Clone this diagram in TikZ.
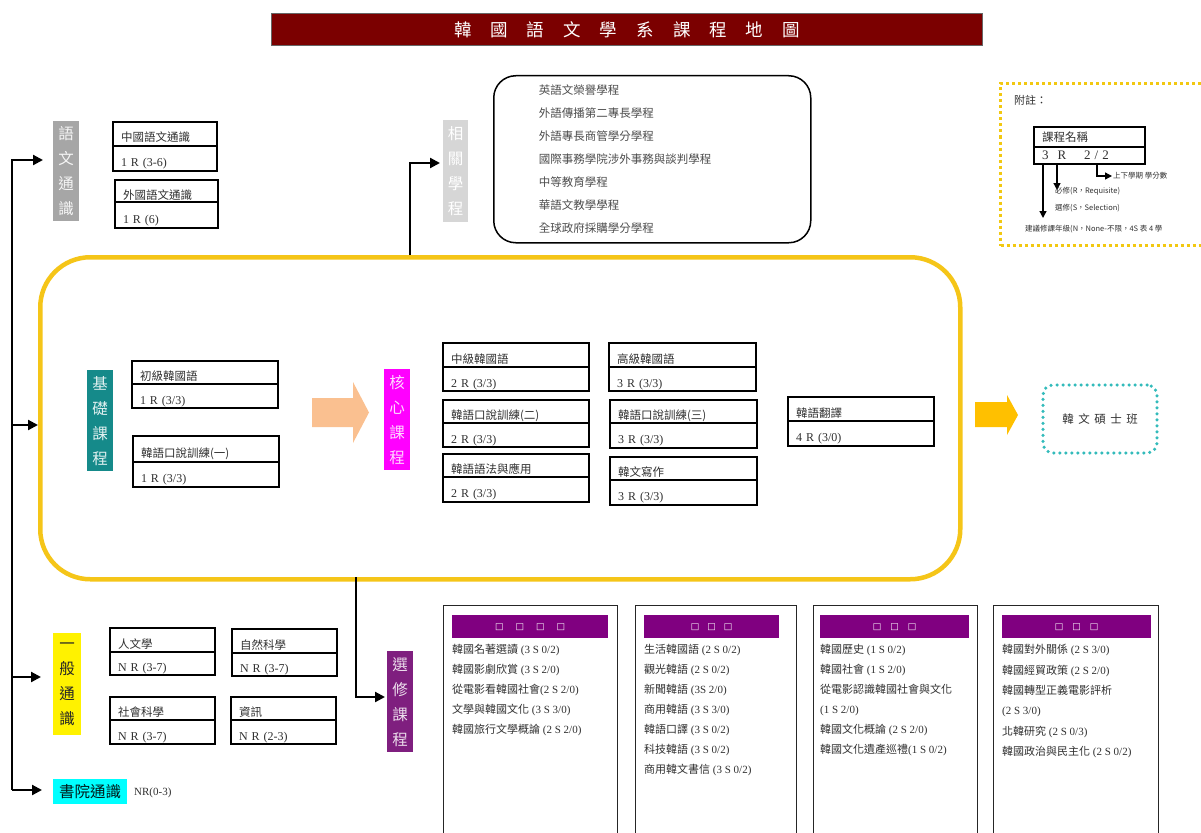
\documentclass[tikz,border=0pt]{standalone}
\usepackage{fontspec}
\setmainfont{Liberation Serif}
\newfontfamily\cjk{Noto Sans CJK TC}
\newfontfamily\symf{DejaVu Sans}
\usetikzlibrary{arrows.meta}
\definecolor{titlered}{HTML}{7B0000}
\definecolor{lgray}{HTML}{A6A6A6}
\definecolor{llgray}{HTML}{D6D6D6}
\definecolor{tealc}{HTML}{158A8A}
\definecolor{magc}{HTML}{FF00FF}
\definecolor{purplec}{HTML}{7F1F7F}
\definecolor{headpurple}{HTML}{800080}
\definecolor{coreyellow}{HTML}{F5C518}
\definecolor{arrowyellow}{HTML}{FFC000}
\definecolor{peach}{HTML}{FAC090}
\definecolor{dotteal}{HTML}{33BBBB}
\definecolor{gold}{HTML}{F2C811}
\definecolor{txt}{HTML}{303030}
\definecolor{cyanc}{HTML}{00FFFF}
\newcommand\zh[1]{{\cjk #1}}
\tikzset{
  cbox/.style={draw=black, line width=1.3pt, anchor=north west, inner xsep=8pt, inner ysep=0pt,
    outer sep=0pt, align=left, text=txt, text height=16pt, text depth=0pt},
  vlabel/.style={anchor=north west, inner sep=0pt, minimum width=26pt, minimum height=101pt,
    align=center, font=\cjk\fontsize{15.5}{25}\selectfont},
  arr/.style={line width=2.2pt, -{Triangle[length=10pt,width=10pt]}},
  legarr/.style={line width=1.3pt, -{Triangle[length=7pt,width=7pt]}},
  ebox/.style={draw=black!85, line width=1.3pt, anchor=north west, inner sep=0pt},
  ehead/.style={fill=headpurple, anchor=north west, inner sep=0pt, text=white,
    font=\symf\fontsize{9}{9}\selectfont},
  elist/.style={anchor=north west, inner sep=0pt, align=left, text=txt,
    font=\fontsize{11}{20}\selectfont},
}
\newcommand\crs[9][]{%
  \pgfmathsetmacro\crsW{#5-#3}%
  \pgfmathsetmacro\crsT{#5-#3-16}%
  \pgfmathsetmacro\crsA{#6-#4}%
  \pgfmathsetmacro\crsB{#7-#6}%
  \node[cbox,minimum width=\crsW pt,minimum height=\crsA pt,text width=\crsT pt,
        font=\cjk\fontsize{11.5}{12}\selectfont,#1] (#2t) at (#3,#4) {#8};
  \node[cbox,minimum width=\crsW pt,minimum height=\crsB pt,text width=\crsT pt,
        font=\fontsize{12}{12}\selectfont,#1] (#2b) at (#3,#6) {#9};
}
\newcommand\tsp{\hspace{19pt}}
\begin{document}
\begin{tikzpicture}[x=1pt,y=-1pt]
\useasboundingbox (0,0) rectangle (1201,832);

% title
\node[fill=titlered, draw=black!60, line width=1pt, anchor=north west, minimum width=711pt,
      minimum height=32pt, inner sep=0pt, text=white, font=\cjk\fontsize{17.5}{17.5}\selectfont]
  (title) at (271,13) {韓\tsp 國\tsp 語\tsp 文\tsp 學\tsp 系\tsp 課\tsp 程\tsp 地\tsp 圖};

% language general education
\node[vlabel, fill=lgray, text=white!92!gray, minimum height=100pt] (yuwen) at (53,121) {語\\文\\通\\識};
\crs{zw}{113}{122}{217}{146}{171}{中國語文通識}{1 R (3-6)}
\crs{ww}{115}{180}{218}{202}{228}{外國語文通識}{1 R (6)}

% related programs
\node[vlabel, fill=llgray, text=white, minimum width=25pt, minimum height=102pt] (xg) at (443,120) {相\\關\\學\\程};
\node[draw=black, line width=1.5pt, rounded corners=22pt, anchor=north west, minimum width=317pt,
      minimum height=167pt, inner xsep=45pt, text width=227pt, align=left, text=black!70,
      font=\cjk\fontsize{11.5}{23}\selectfont] (programs) at (493,75)
  {英語文榮譽學程\\外語傳播第二專長學程\\外語專長商管學分學程\\國際事務學院涉外事務與談判學程\\中等教育學程\\華語文教學學程\\全球政府採購學分學程};

% legend
\node[draw=gold, line width=3pt, dash pattern=on 3pt off 3pt, anchor=north west,
      minimum width=220pt, minimum height=162pt, inner sep=0pt] (legend) at (999,82) {};
\node[anchor=west, inner sep=0pt, font=\cjk\fontsize{11}{11}\selectfont, text=txt] (legtitle) at (1014,100) {附註：};
\crs[text height=8pt, line width=1.1pt]{leg}{1034}{127}{1145}{147}{164}{課程名稱}{\fontsize{13}{13}\selectfont 3\hspace{9pt}R\hspace{18pt}2 / 2}
\coordinate (l1s) at (1043,164); \coordinate (l1e) at (1043,218);
\coordinate (l2s) at (1057,164); \coordinate (l2e) at (1057,190);
\coordinate (l3s) at (1097,164); \coordinate (l3e) at (1112,176);
\draw[legarr] (l1s) -- (l1e);
\draw[legarr] (l2s) -- (l2e);
\draw[legarr] (l3s) |- (l3e);
\node[anchor=west, inner sep=0pt, font=\cjk\fontsize{7.5}{7.5}\selectfont, text=txt] (legA) at (1113,176) {上下學期 學分數};
\node[anchor=west, inner sep=0pt, font=\cjk\fontsize{7.5}{7.5}\selectfont, text=txt] (legB) at (1055,191) {必修(R，Requisite)};
\node[anchor=west, inner sep=0pt, font=\cjk\fontsize{7.5}{7.5}\selectfont, text=txt] (legC) at (1055,208) {選修(S，Selection)};
\node[anchor=west, inner sep=0pt, font=\cjk\fontsize{7.5}{7.5}\selectfont, text=txt] (legD) at (1025,229) {建議修課年級(N，None-不限，4S 表 4 學};

% core rounded box
\node[draw=coreyellow, line width=4.5pt, rounded corners=50pt, anchor=north west,
      minimum width=920pt, minimum height=322pt, inner sep=0pt] (corebox) at (38,255) {};

% basic courses
\node[vlabel, fill=tealc, text=white!88!teal] (jichu) at (87,370) {基\\礎\\課\\程};
\crs{cj}{132}{361}{278}{384}{408}{初級韓國語}{1 R (3/3)}
\crs{ks1}{133}{436}{279}{462}{487}{韓語口說訓練(一)}{1 R (3/3)}

\fill[peach] (312,398) -- (353,398) -- (353,382) -- (369,412.5) -- (353,443) -- (353,427) -- (312,427) -- cycle;

% core courses
\node[vlabel, fill=magc, text=white!85!magc] (hexin) at (384,369) {核\\心\\課\\程};
\crs{zj}{443}{343}{589}{367}{391}{中級韓國語}{2 R (3/3)}
\crs{gj}{609}{343}{756}{367}{391}{高級韓國語}{3 R (3/3)}
\crs{ks2}{443}{400}{589}{423}{447}{韓語口說訓練(二)}{2 R (3/3)}
\crs{ks3}{610}{400}{757}{423}{448}{韓語口說訓練(三)}{3 R (3/3)}
\crs{yf}{443}{454}{589}{477}{502}{韓語語法與應用}{2 R (3/3)}
\crs{xz}{610}{457}{757}{480}{505}{韓文寫作}{3 R (3/3)}
\crs{fy}{788}{397}{934}{421}{446}{韓語翻譯}{4 R (3/0)}

\fill[arrowyellow] (975,402) -- (1007,402) -- (1007,395) -- (1018,415) -- (1007,435) -- (1007,427) -- (975,427) -- cycle;
\node[draw=dotteal, line width=3.5pt, dash pattern=on 0pt off 6pt, line cap=round, rounded corners=10pt,
      minimum width=114pt, minimum height=68pt, inner sep=0pt, text=txt,
      font=\cjk\fontsize{11.5}{11.5}\selectfont] (master) at (1100,419) {韓\hspace{4.5pt}文\hspace{4.5pt}碩\hspace{4.5pt}士\hspace{4.5pt}班};

% general education
\node[vlabel, fill=yellow, text=black!85, minimum width=28pt, minimum height=102pt] (yiban) at (53,633) {一\\般\\通\\識};
\crs{rw}{110}{628}{215}{652}{675}{人文學}{N R (3-7)}
\crs{zr}{232}{629}{337}{653}{676}{自然科學}{N R (3-7)}
\crs{sh}{110}{697}{215}{720}{744}{社會科學}{N R (3-7)}
\crs{zx}{231}{697}{336}{720}{744}{資訊}{N R (2-3)}

\node[fill=cyanc, anchor=north west, inner sep=0pt, minimum width=74pt, minimum height=25pt,
      text=black!80!teal, font=\cjk\fontsize{15.5}{15.5}\selectfont] (shuyuan) at (53,779) {書院通識};
\node[anchor=west, inner sep=0pt, text=txt, font=\fontsize{11}{11}\selectfont] (shuyuanC) at (134,793) {NR(0-3)};

% trunk connectors
\coordinate (tBot) at (12,790);
\coordinate (tCore) at (12,425);
\coordinate (tGen) at (12,677);
\coordinate (aYW) at (43,160);
\coordinate (aCore) at (38,425);
\coordinate (aGen) at (41,677);
\coordinate (aSY) at (42,790);
\draw[arr] (tBot) |- (aYW);
\draw[arr] (tCore) -- (aCore);
\draw[arr] (tGen) -- (aGen);
\draw[arr] (tBot) -- (aSY);

% core box connectors
\coordinate (cTop) at (410,255);
\coordinate (aXG) at (440,163);
\draw[arr] (cTop) |- (aXG);

% electives
\node[vlabel, fill=purplec, text=white!85!purplec] (xuanxiu) at (387,651) {選\\修\\課\\程};
\coordinate (cBot) at (356,577);
\coordinate (aXX) at (385,697);
\draw[arr] (cBot) |- (aXX);

\node[ebox, minimum width=174pt, minimum height=240pt] (e1) at (443,605) {};
\node[ehead, minimum width=156pt, minimum height=23pt] (e1h) at (452,615) {□\hspace{12pt}□\hspace{12pt}□\hspace{12pt}□};
\node[elist] (e1l) at (452,644) {\zh{韓國名著選讀} (3 S 0/2)\\\zh{韓國影劇欣賞} (3 S 2/0)\\\zh{從電影看韓國社會}(2 S 2/0)\\\zh{文學與韓國文化} (3 S 3/0)\\\zh{韓國旅行文學概論} (2 S 2/0)};

\node[ebox, minimum width=161pt, minimum height=240pt] (e2) at (635,605) {};
\node[ehead, minimum width=135pt, minimum height=23pt] (e2h) at (644,615) {□\hspace{8pt}□\hspace{8pt}□};
\node[elist] (e2l) at (644,644) {\zh{生活韓國語} (2 S 0/2)\\\zh{觀光韓語} (2 S 0/2)\\\zh{新聞韓語} (3S 2/0)\\\zh{商用韓語} (3 S 3/0)\\\zh{韓語口譯} (3 S 0/2)\\\zh{科技韓語} (3 S 0/2)\\\zh{商用韓文書信} (3 S 0/2)};

\node[ebox, minimum width=164pt, minimum height=240pt] (e3) at (813,605) {};
\node[ehead, minimum width=149pt, minimum height=23pt] (e3h) at (820,615) {□\hspace{9pt}□\hspace{9pt}□};
\node[elist] (e3l) at (820,644) {\zh{韓國歷史} (1 S 0/2)\\\zh{韓國社會} (1 S 2/0)\\\zh{從電影認識韓國社會與文化}\\(1 S 2/0)\\\zh{韓國文化概論} (2 S 2/0)\\\zh{韓國文化遺產巡禮}(1 S 0/2)};

\node[ebox, minimum width=165pt, minimum height=240pt] (e4) at (993,605) {};
\node[ehead, minimum width=149pt, minimum height=23pt] (e4h) at (1002,615) {□\hspace{9pt}□\hspace{9pt}□};
\node[elist, font=\fontsize{11}{20.4}\selectfont] (e4l) at (1002,644) {\zh{韓國對外關係} (2 S 3/0)\\\zh{韓國經貿政策} (2 S 2/0)\\\zh{韓國轉型正義電影評析}\\(2 S 3/0)\\\zh{北韓研究} (2 S 0/3)\\\zh{韓國政治與民主化} (2 S 0/2)};
\end{tikzpicture}
\end{document}
